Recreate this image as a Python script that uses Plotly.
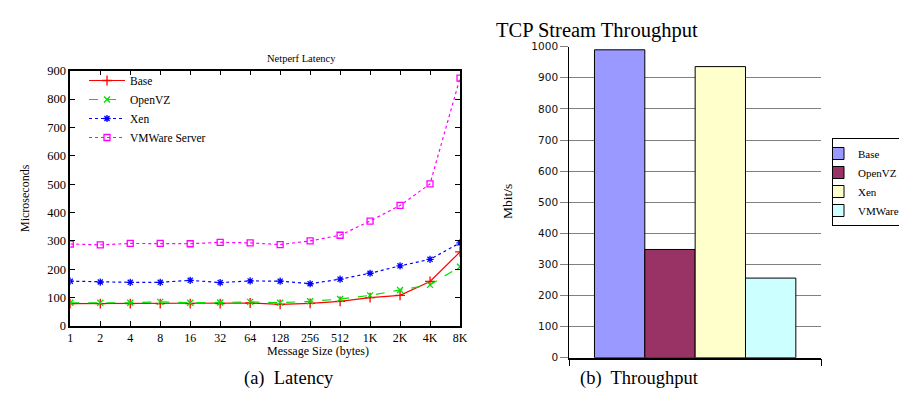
import plotly.graph_objects as go

W, H = 899, 408

# ---------------- data ----------------
msg_sizes = ["1", "2", "4", "8", "16", "32", "64", "128", "256", "512", "1K", "2K", "4K", "8K"]
lat_base = [79, 79, 79, 79, 79, 79, 81, 76, 80, 87, 100, 108, 157, 261]
lat_openvz = [82, 82, 82, 85, 82, 83, 85, 82, 87, 95, 108, 127, 145, 209]
lat_xen = [158, 155, 154, 154, 161, 153, 159, 158, 149, 165, 186, 212, 235, 293]
lat_vmware = [289, 286, 291, 291, 290, 295, 293, 287, 300, 320, 370, 425, 501, 874]

tp_category = ["TCP Stream"]
tp_names = ["Base", "OpenVZ", "Xen", "VMWare"]
tp_values = [990, 348, 936, 256]

# ---------------- helpers (layout only) ----------------
def fx(px):
    return px / W

def fy(py):
    return 1 - py / H

SERIF = "Liberation Serif, Times New Roman, serif"
SANS = "DejaVu Sans, Verdana, sans-serif"

fig = go.Figure()

# ---- left: latency lines ----
line_specs = [
    ("Base", lat_base, "#ff0000", "solid", "cross-thin", 7),
    ("OpenVZ", lat_openvz, "#00e000", "dash", "x-thin", 6),
    ("Xen", lat_xen, "#0000ff", "dot", "asterisk", 6),
    ("VMWare Server", lat_vmware, "#ff00ff", "dot", "square-open", 6),
]
for name, vals, color, dash, sym, size in line_specs:
    fig.add_trace(go.Scatter(
        x=msg_sizes, y=vals, name=name, mode="lines+markers",
        line=dict(color=color, width=1.2, dash=dash),
        marker=dict(symbol=sym, size=size, color=color,
                    line=dict(color=color, width=1.3)),
        xaxis="x", yaxis="y", legend="legend2",
    ))

# ---- right: throughput bars ----
bar_colors = ["#9999ff", "#993366", "#ffffcc", "#ccffff"]
for name, val, color in zip(tp_names, tp_values, bar_colors):
    fig.add_trace(go.Bar(
        x=tp_category, y=[val], name=name,
        marker=dict(color=color, line=dict(color="#000000", width=1)),
        xaxis="x2", yaxis="y2", legend="legend",
    ))

fig.update_layout(
    width=W, height=H,
    margin=dict(l=0, r=0, t=0, b=0, autoexpand=False),
    paper_bgcolor="white", plot_bgcolor="white",
    barmode="group", bargap=0.2, bargroupgap=0,
    font=dict(family=SERIF, color="#000000"),
    xaxis=dict(
        domain=[fx(70.3), fx(460)], anchor="y",
        type="category", range=[0, 13],
        showline=True, linecolor="#000000", linewidth=1.5, mirror="ticks",
        ticks="inside", ticklen=5, tickwidth=1, tickcolor="#000000",
        showgrid=False, zeroline=False,
        tickfont=dict(family=SERIF, size=12),
    ),
    yaxis=dict(
        domain=[fy(326), fy(70.7)], anchor="x",
        range=[0, 900], dtick=100,
        showline=True, linecolor="#000000", linewidth=1.5, mirror="ticks",
        ticks="inside", ticklen=5, tickwidth=1, tickcolor="#000000",
        showgrid=False, zeroline=False,
        tickfont=dict(family=SERIF, size=12.5),
    ),
    xaxis2=dict(
        domain=[fx(569.3), fx(821)], anchor="y2",
        type="category", range=[-0.5, 0.5], tickson="boundaries",
        showline=True, linecolor="#000000", linewidth=1.5,
        ticks="outside", ticklen=7, tickwidth=1.3, tickcolor="#000000",
        showticklabels=False, showgrid=False, zeroline=False,
    ),
    yaxis2=dict(
        domain=[fy(357.7), fy(46.7)], anchor="x2",
        range=[0, 1000], dtick=100,
        showline=True, linecolor="#000000", linewidth=1.2,
        ticks="outside", ticklen=8, tickwidth=1.3, tickcolor="#808080",
        showgrid=True, gridcolor="#808080", gridwidth=1.3, zeroline=False,
        tickfont=dict(family=SANS, size=10.5, color="#111111"),
    ),
    legend=dict(
        x=fx(832), y=fy(138), xanchor="left", yanchor="top",
        bgcolor="white", bordercolor="#000000", borderwidth=1,
        font=dict(family=SERIF, size=11),
        tracegroupgap=0, itemwidth=30, indentation=-15,
    ),
    legend2=dict(
        x=fx(84), y=fy(66), xanchor="left", yanchor="top",
        bgcolor="rgba(255,255,255,0)", borderwidth=0,
        font=dict(family=SERIF, size=11.5),
        tracegroupgap=0, itemwidth=36,
    ),
    annotations=[
        dict(text="Netperf Latency", x=fx(265), y=fy(51), xref="paper", yref="paper",
             showarrow=False, font=dict(family=SERIF, size=10.5)),
        dict(text="Microseconds", x=fx(16), y=fy(198), xref="paper", yref="paper",
             showarrow=False, textangle=-90, font=dict(family=SERIF, size=12)),
        dict(text="Message Size (bytes)", x=fx(265), y=fy(360), xref="paper", yref="paper",
             showarrow=False, font=dict(family=SERIF, size=12)),
        dict(text="(a)  Latency", x=fx(242), y=fy(391), xref="paper", yref="paper",
             showarrow=False, font=dict(family=SERIF, size=18.5)),
        dict(text="TCP Stream Throughput", x=fx(700), y=fy(17), xref="paper", yref="paper",
             showarrow=False, font=dict(family=SERIF, size=20.5)),
        dict(text="Mbit/s", x=fx(507), y=fy(202), xref="paper", yref="paper",
             showarrow=False, textangle=-90, font=dict(family=SERIF, size=13.5)),
        dict(text="(b)  Throughput", x=fx(701), y=fy(391), xref="paper", yref="paper",
             showarrow=False, font=dict(family=SERIF, size=18.5)),
    ],
)

fig.write_html("out.html")
